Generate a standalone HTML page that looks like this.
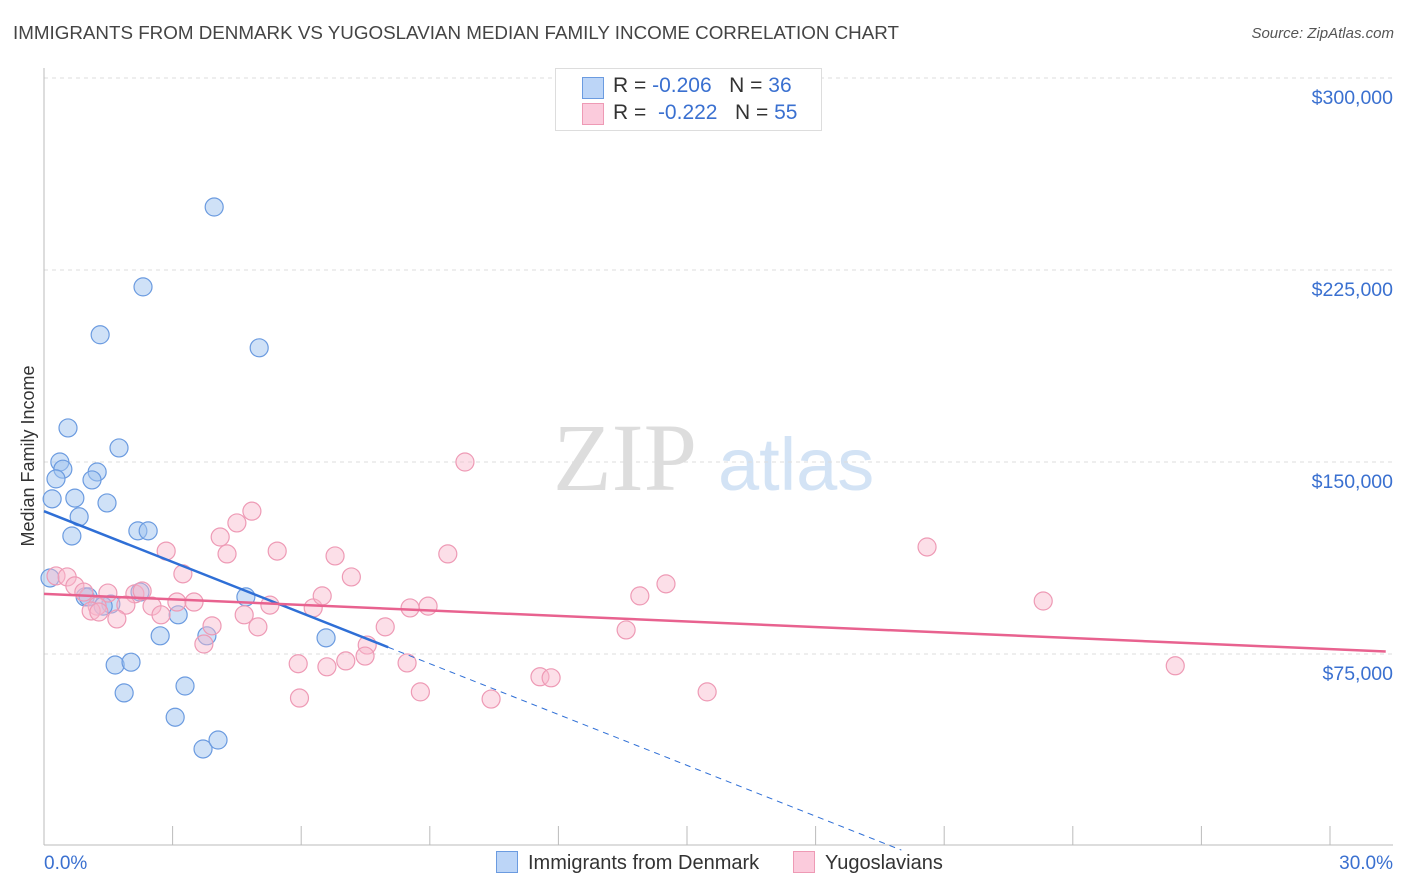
<!DOCTYPE html>
<html><head><meta charset="utf-8"><style>
body{margin:0;background:#fff;font-family:"Liberation Sans",sans-serif;}
#wrap{position:relative;width:1406px;height:892px;overflow:hidden;}
.t{position:absolute;white-space:nowrap;}
</style></head><body>
<div id="wrap">
<div class="t" style="left:13px;top:22px;font-size:18.8px;color:#444;">IMMIGRANTS FROM DENMARK VS YUGOSLAVIAN MEDIAN FAMILY INCOME CORRELATION CHART</div>
<div class="t" style="right:12px;top:25px;font-size:15px;color:#555;font-style:italic;">Source: ZipAtlas.com</div>
<svg id="plot" width="1406" height="892" style="position:absolute;left:0;top:0;"></svg>
</div>
<script>
const blueX=[3.97,2.31,1.31,5.02,0.56,1.75,0.37,0.44,1.24,0.28,1.12,0.72,0.19,1.47,0.82,2.19,2.43,0.65,0.14,0.96,1.03,2.24,1.56,1.38,4.71,3.13,2.71,3.80,6.58,1.66,2.03,1.87,3.29,3.06,3.71,4.06];
const blueY=[249.6,218.4,199.7,194.6,163.3,155.5,150.0,147.2,146.1,143.4,143.0,135.9,135.6,134.0,128.6,123.1,123.1,121.1,104.7,97.3,97.3,99.2,94.5,93.7,97.3,90.3,82.1,82.1,81.3,70.7,71.8,59.8,62.5,50.3,37.9,41.4];
const pinkX=[9.82,20.60,4.85,4.50,4.11,2.85,4.27,5.44,6.79,9.42,3.24,7.17,14.51,13.90,23.31,0.28,0.54,0.72,0.93,1.49,2.12,2.29,3.10,3.50,2.52,1.91,1.24,1.10,1.28,1.70,2.73,5.27,6.28,6.49,4.67,3.92,4.99,3.73,7.96,8.54,8.96,13.58,7.54,5.93,6.60,7.04,7.49,8.47,5.96,8.78,10.43,11.57,11.83,15.47,26.39];
const pinkY=[150.0,116.8,130.8,126.2,120.7,115.2,114.1,115.2,113.3,114.1,106.3,105.1,102.4,97.7,95.7,105.5,105.1,101.6,99.2,98.8,98.5,99.6,95.3,95.3,93.7,94.1,93.7,91.8,91.4,88.7,90.3,94.1,93.0,97.7,90.3,86.0,85.6,78.9,85.6,93.0,93.7,84.4,78.5,71.2,70.0,72.3,74.2,71.5,57.8,60.2,57.4,66.1,65.7,60.2,70.4];
const yTicks=[75,150,225,300];
const yTickLabels=["$75,000","$150,000","$225,000","$300,000"];
const blueTrend=[130.8,-6.62];
const pinkTrend=[98.5,-0.72];
const xs=p=>44+p/30*1286;
const ys=v=>846-v/75*192;
const svg=document.getElementById('plot');
const NS='http://www.w3.org/2000/svg';
function mk(tag,at){const e=document.createElementNS(NS,tag);for(const k in at)e.setAttribute(k,at[k]);svg.appendChild(e);return e;}
let w=mk('text',{x:553,y:490,'font-size':96,fill:'#ddd','font-family':'Liberation Serif,serif'});w.textContent='ZIP';


w=mk('text',{x:718,y:490,'font-size':74,fill:'#d3e3f5','font-family':'Liberation Sans,sans-serif'});w.textContent='atlas';


yTicks.forEach((v,i)=>{
 const l=mk('line',{x1:44,x2:1393,y1:ys(v),y2:ys(v),stroke:'#ddd','stroke-dasharray':'4,4'});
 
 
 const t=mk('text',{x:1393,y:ys(v)+26,'text-anchor':'end','font-size':19.5,fill:'#3a70d0'});t.textContent=yTickLabels[i];
 
 
});
let a=mk('line',{x1:44,x2:44,y1:68,y2:845,stroke:'#bbb'});


a=mk('line',{x1:44,x2:1393,y1:845,y2:845,stroke:'#bbb'});


for(let i=0;i<=10;i++){const tk=mk('line',{x1:xs(i*3),x2:xs(i*3),y1:826,y2:845,stroke:'#bbb'});
 
 }
let xt=mk('text',{x:44,y:869,'font-size':19,fill:'#3a70d0'});xt.textContent='0.0%';


xt=mk('text',{x:1393,y:869,'font-size':19,fill:'#3a70d0','text-anchor':'end'});xt.textContent='30.0%';


let yt=mk('text',{x:34,y:456,'font-size':18,fill:'#333','text-anchor':'middle',transform:'rotate(-90 34 456)'});yt.textContent='Median Family Income';


blueX.forEach((x,i)=>{const c=mk('circle',{cx:xs(x),cy:ys(blueY[i]),r:9,fill:'rgba(160,195,240,0.5)',stroke:'#6b9be0','stroke-width':1.2});
 
 });
pinkX.forEach((x,i)=>{const c=mk('circle',{cx:xs(x),cy:ys(pinkY[i]),r:9,fill:'rgba(248,185,205,0.45)',stroke:'#ee9ab5','stroke-width':1.2});
 
 });
const bl=x=>blueTrend[0]+blueTrend[1]*x, pl=x=>pinkTrend[0]+pinkTrend[1]*x;
let tl=mk('line',{x1:xs(0),y1:ys(bl(0)),x2:xs(8.03),y2:ys(bl(8.03)),stroke:'#2f6fd6','stroke-width':2.5});


tl=mk('line',{x1:xs(8.03),y1:ys(bl(8.03)),x2:xs(20),y2:ys(bl(20)),stroke:'#2f6fd6','stroke-width':1,'stroke-dasharray':'6,5'});


tl=mk('line',{x1:xs(0),y1:ys(pl(0)),x2:xs(31.3),y2:ys(pl(31.3)),stroke:'#e8628f','stroke-width':2.5});


</script>
<div class="t" style="left:555px;top:68px;width:265px;height:61px;border:1px solid #ddd;background:#fff;font-size:21px;color:#333;">
 <div style="position:absolute;left:26px;top:8px;width:20px;height:20px;background:#bcd5f7;border:1px solid #6b9be0;"></div>
 <div style="position:absolute;left:57px;top:5px;">R = <span style="color:#3a70d0">-0.206</span>&nbsp;&nbsp;&nbsp;N = <span style="color:#3a70d0">36</span></div>
 <div style="position:absolute;left:26px;top:34px;width:20px;height:20px;background:#fbcbdc;border:1px solid #ee9ab5;"></div>
 <div style="position:absolute;left:57px;top:32px;">R = &nbsp;<span style="color:#3a70d0">-0.222</span>&nbsp;&nbsp;&nbsp;N = <span style="color:#3a70d0">55</span></div>
</div>
<div class="t" style="left:496px;top:851px;font-size:20px;color:#333;">
 <span style="display:inline-block;width:20px;height:20px;background:#bcd5f7;border:1px solid #6b9be0;vertical-align:-4px;margin-right:10px;"></span>Immigrants from Denmark</div>
<div class="t" style="left:793px;top:851px;font-size:20px;color:#333;">
 <span style="display:inline-block;width:20px;height:20px;background:#fbcbdc;border:1px solid #ee9ab5;vertical-align:-4px;margin-right:10px;"></span>Yugoslavians</div>
</body></html>
